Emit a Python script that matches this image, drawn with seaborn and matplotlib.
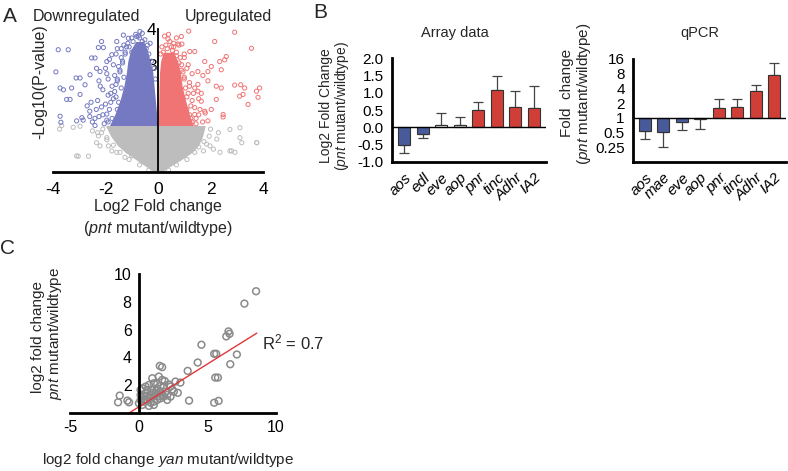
import numpy as np
import pandas as pd
import matplotlib
matplotlib.use("Agg")
import matplotlib.pyplot as plt
import seaborn as sns

# ---------------- DATA ----------------
# Panel A: volcano plot (dense cores as envelopes, scattered points listed)
blue_env_y     = [1.30, 1.60, 2.00, 2.40, 2.80, 3.10, 3.40, 3.65]
blue_env_left  = [-1.85, -1.65, -1.45, -1.30, -1.20, -1.15, -1.05, -0.85]
blue_env_right = [-0.02, -0.05, -0.10, -0.15, -0.20, -0.30, -0.40, -0.55]

red_env_y     = [1.30, 1.60, 2.00, 2.40, 2.80, 3.10, 3.35]
red_env_left  = [0.02, 0.02, 0.03, 0.04, 0.06, 0.10, 0.20]
red_env_right = [1.35, 1.20, 1.05, 0.92, 0.85, 0.75, 0.60]

gray_env_y     = [0.00, 0.15, 0.35, 0.55, 0.75, 1.00, 1.30]
gray_env_left  = [-0.15, -0.45, -0.85, -1.25, -1.55, -1.80, -2.00]
gray_env_right = [0.15, 0.45, 0.90, 1.30, 1.55, 1.70, 1.80]

down_x = [-3.42, -3.89, -2.15, -2.27, -2.08, -2.53, -2.40, -3.12, -2.97, -3.73, -3.60,
          -3.29, -3.48, -3.35, -2.97, -2.78, -2.59, -3.73, -3.70, -3.10, -2.90, -2.34,
          -2.21, -1.95, -1.76, -1.57, -1.32, -1.13, -0.69, -0.81, -1.20, -1.00, -3.80,
          -1.95, -2.10, -1.85, -2.00, -1.70, -1.80, -1.60, -1.55, -1.45, -1.35, -1.25,
          -1.10, -0.95, -0.70, -0.50, -0.40, -0.85, -2.40, -2.60, -2.30, -2.50, -2.20,
          -1.90, -2.00, -1.70, -1.60, -1.40, -0.60, -0.30, -1.50, -2.70, -2.85,
          -2.05, -2.25, -1.95, -2.15, -1.80, -1.90, -1.65, -1.75, -1.55, -1.65, -1.45,
          -1.50, -1.35, -1.40, -1.25, -1.30, -1.15, -1.00, -0.75, -0.60, -0.45, -0.35,
          -0.25, -0.15, -0.10, -2.40, -2.60, -2.35, -2.55, -2.10, -2.25, -1.95, -1.85,
          -1.55, -1.90, -1.75, -1.55, -1.60, -1.40, -1.30]
down_y = [3.42, 2.80, 3.65, 3.48, 3.48, 3.19, 3.19, 2.63, 2.63, 2.35, 2.30,
          2.35, 2.03, 2.03, 2.17, 2.44, 2.72, 1.56, 1.39, 1.43, 1.52, 2.90,
          2.81, 3.09, 3.28, 3.65, 3.83, 3.74, 3.93, 3.79, 3.50, 3.35, 3.42,
          1.45, 1.60, 1.75, 1.90, 2.05, 2.20, 2.45, 2.60, 2.85, 3.10, 3.30,
          3.50, 3.65, 3.75, 3.70, 3.55, 3.85, 1.50, 1.70, 2.00, 1.40, 2.40,
          2.60, 2.90, 3.00, 3.30, 3.45, 3.88, 3.60, 1.95, 1.85, 1.45,
          1.35, 1.55, 1.62, 1.82, 1.95, 2.15, 2.25, 2.40, 2.55, 2.70, 2.80,
          2.95, 3.05, 3.20, 3.35, 3.55, 3.60, 3.75, 3.80, 3.65, 3.45, 3.30,
          3.10, 2.90, 2.60, 1.30, 1.55, 1.75, 1.95, 2.30, 2.55, 2.75, 3.15,
          3.45, 1.40, 1.50, 1.75, 2.10, 2.35, 2.65]

up_x = [1.17, 2.92, 2.16, 3.56, 0.89, 0.76, 0.91, 0.38, 0.51, 1.40, 1.21,
        2.35, 2.60, 2.54, 2.03, 1.78, 2.41, 1.52, 1.90, 2.22, 2.41, 2.92,
        3.15, 3.30, 3.75, 3.87, 3.81, 3.11, 3.24, 3.43, 2.22, 2.03, 2.48,
        2.48, 1.52, 1.65, 1.78, 1.90, 1.40, 1.71, 1.90, 1.52, 1.30, 1.20,
        1.25, 1.10, 1.05, 1.00, 0.90, 0.80, 0.70, 0.55, 0.35, 0.20, 1.45,
        1.60, 1.35, 1.20, 1.10, 0.60, 0.45, 0.25, 1.00,
        1.45, 1.55, 1.40, 1.30, 1.15, 1.20, 1.00, 0.95, 0.90, 0.85, 0.70,
        0.60, 0.30, 0.15, 0.10, 1.70, 1.80, 1.55, 1.40, 1.30, 1.15, 1.00,
        0.80, 0.70, 0.40, 1.65, 1.25, 1.10]
up_y = [3.94, 3.91, 3.65, 3.46, 3.79, 3.58, 3.58, 3.72, 3.50, 3.37, 3.37,
        3.09, 3.23, 3.14, 2.95, 3.09, 2.86, 2.81, 2.81, 2.40, 2.35, 2.43,
        2.44, 2.35, 2.26, 2.35, 2.09, 2.12, 2.17, 1.89, 2.03, 1.75, 1.61,
        1.54, 2.26, 1.98, 1.70, 1.43, 1.61, 2.70, 2.55, 2.45, 1.40, 1.60,
        1.85, 2.10, 2.35, 2.60, 2.85, 3.05, 3.25, 3.40, 3.45, 3.35, 1.50,
        1.75, 2.20, 2.50, 2.90, 3.60, 3.65, 3.80, 3.20,
        1.35, 1.60, 1.80, 2.00, 2.20, 2.40, 2.65, 2.80, 3.00, 3.20, 3.35,
        3.50, 3.55, 3.50, 3.30, 1.40, 1.65, 2.05, 2.35, 2.75, 3.00, 3.30,
        3.55, 3.75, 3.85, 2.20, 1.50, 1.75]

ns_x = [-3.04, -2.65, -2.27, -2.15, -1.95, -2.34, -2.21, -1.89, -1.76, -1.57, -1.00,
        -1.26, 1.41, 1.85, 2.11, 1.73, 2.36, 2.74, 2.93, 3.12, 3.12, 3.19, 3.76,
        2.24, 2.74, -3.10, 2.80, 3.76, 1.98, -2.10, -2.30, -1.95, -1.70, -1.45,
        -1.10, -0.70, 2.00, 1.95, 1.75, 1.55, 1.40, 1.10, 0.70, 2.30, -2.50,
        0.40, -0.35, -3.67, -3.23, -2.97, -3.75]
ns_y = [0.44, 0.44, 1.01, 1.10, 0.96, 0.82, 0.73, 0.73, 0.59, 0.55, 0.45,
        0.41, 0.87, 0.78, 0.64, 0.59, 0.55, 0.59, 0.55, 1.24, 0.96, 0.82, 0.82,
        0.92, 1.19, 0.45, 0.59, 0.82, 0.73, 1.20, 1.10, 0.90, 0.75, 0.55,
        0.35, 0.20, 1.20, 1.00, 0.85, 0.70, 0.55, 0.35, 0.20, 1.10, 1.15,
        0.05, 0.05, 1.30, 1.25, 1.28, 1.20]

# Panel B: array data (log2 fold change) and qPCR (fold change)
array_genes = ["aos", "edl", "eve", "aop", "pnr", "tinc", "Adhr", "IA2"]
array_vals = [-0.52, -0.20, 0.07, 0.08, 0.50, 1.07, 0.58, 0.55]
array_err_tip = [-0.75, -0.30, 0.40, 0.30, 0.73, 1.48, 1.05, 1.20]
array_colors = ["#3a52a8", "#3a52a8", "#f4f4f4", "#d9d9d9",
                "#e8281e", "#e8281e", "#e8281e", "#e8281e"]

qpcr_genes = ["aos", "mae", "eve", "aop", "pnr", "tinc", "Adhr", "IA2"]
qpcr_vals = [0.54, 0.52, 0.84, 0.97, 1.60, 1.63, 3.55, 7.40]
qpcr_err_tip = [0.37, 0.25, 0.57, 0.59, 2.45, 2.45, 4.70, 13.5]
qpcr_colors = ["#3a52a8", "#3a52a8", "#3a52a8", "#3a52a8",
               "#e8281e", "#e8281e", "#e8281e", "#e8281e"]

# Panel C: yan vs pnt log2 fold change
yan_x = [8.55, 7.70, 6.54, 6.62, 6.38, 4.57, 5.50, 5.65, 7.15, 4.30, 6.67, 3.57,
         5.58, 5.77, 3.67, 5.50, 5.82, 1.54, 1.71, -1.38, -1.50, -0.82, -0.70,
         0.99, 1.47, 1.71, 2.68, 3.04, 2.32, 2.56, 2.32, 2.08, 0.27, 0.51, 0.75,
         1.10, 1.35, 1.59, 1.83, 0.14, 0.39, 0.63, 0.87, 1.11, 1.35, 1.59, 1.83,
         0.14, 0.51, 0.87, 1.23, 1.59, 1.95, 0.39, 0.75, 1.10, 1.47, 0.99, 0.63,
         0.14, 1.35, 1.71, 2.08, 0.02, 1.10, 0.27, 0.75, 2.45, 2.85, 0.45, 1.00,
         1.30, 0.60, 1.90, 2.20]
pnt_y = [8.76, 7.87, 5.87, 5.70, 5.51, 4.91, 4.26, 4.26, 4.21, 3.63, 3.51, 3.03,
         2.55, 2.55, 0.89, 0.74, 0.87, 3.39, 3.30, 1.25, 0.77, 0.89, 0.77,
         2.50, 2.62, 2.38, 2.26, 2.19, 1.90, 1.54, 1.18, 0.94, 1.78, 1.90, 2.02,
         2.14, 2.09, 1.95, 1.86, 0.94, 0.82, 0.89, 0.74, 0.82, 0.94, 1.06, 1.18,
         1.30, 1.42, 1.30, 1.42, 1.54, 1.54, 1.18, 1.06, 1.18, 1.23, 1.66, 1.66,
         1.66, 1.78, 1.30, 1.30, 0.70, 0.58, 0.58, 0.51, 1.70, 1.45, 1.00, 1.45,
         1.60, 1.25, 2.30, 2.05]
fit_slope = 0.618
fit_intercept = 0.43
fit_x_range = [-0.70, 8.60]

# ---------------- STYLE ----------------
sns.set_theme(style="white")
plt.rcParams["font.family"] = ["Liberation Sans", "DejaVu Sans"]
plt.rcParams["mathtext.fontset"] = "custom"
plt.rcParams["mathtext.rm"] = "Liberation Sans"
plt.rcParams["mathtext.it"] = "Liberation Sans:italic"
plt.rcParams["mathtext.bf"] = "Liberation Sans:bold"

W, H = 788, 471
fig = plt.figure(figsize=(W / 100, H / 100), dpi=100)
fig.patch.set_facecolor("white")


def fx(px):
    return px / W


def fy(py):
    return 1 - py / H


def rect(l, t, r, b):
    return [fx(l), fy(b), (r - l) / W, (b - t) / H]


BLUE_PT = "#7479c2"
RED_PT = "#f07474"
GRAY_PT = "#bdbdbd"

# ---------------- Panel A ----------------
axA = fig.add_axes(rect(53, 29, 263, 172))
axA.fill_betweenx(gray_env_y, gray_env_left, gray_env_right, color=GRAY_PT, lw=0, zorder=1)
axA.fill_betweenx(blue_env_y, blue_env_left, blue_env_right, color=BLUE_PT, lw=0, zorder=1)
axA.fill_betweenx(red_env_y, red_env_left, red_env_right, color=RED_PT, lw=0, zorder=1)
for xs, ys, c in [(ns_x, ns_y, GRAY_PT), (down_x, down_y, BLUE_PT), (up_x, up_y, RED_PT)]:
    sns.scatterplot(x=xs, y=ys, ax=axA, marker="o", s=9, facecolors="none",
                    edgecolor=c, linewidth=0.7, clip_on=False, zorder=2)
axA.set_xlim(-4, 4)
axA.set_ylim(0, 4)
for s in ["top", "right"]:
    axA.spines[s].set_visible(False)
axA.spines["left"].set_position(("data", 0))
axA.spines["left"].set_bounds(0, 4)
axA.spines["left"].set_linewidth(1.3)
axA.spines["left"].set_color("black")
axA.spines["left"].set_zorder(5)
axA.spines["bottom"].set_bounds(-4, 4)
axA.spines["bottom"].set_linewidth(2)
axA.spines["bottom"].set_color("black")
axA.set_xticks([-4, -2, 0, 2, 4])
axA.set_xticklabels(["-4", "-2", "0", "2", "4"])
axA.set_yticks([3, 4])
axA.set_yticklabels(["3", "4"])
axA.tick_params(axis="x", direction="out", length=4, width=1.5, labelsize=12.5, pad=3, colors="black")
axA.tick_params(axis="y", direction="in", length=3, width=1.3, labelsize=12.5, pad=1, colors="black")
axA.set_facecolor("none")

fig.text(fx(3), fy(17), "A", fontsize=15, va="center", ha="left")
fig.text(fx(87), fy(17), "Downregulated", fontsize=11.5, va="center", ha="center")
fig.text(fx(228), fy(17), "Upregulated", fontsize=11.5, va="center", ha="center")
fig.text(fx(158), fy(207), "Log2 Fold change", fontsize=11.5, va="center", ha="center")
fig.text(fx(158), fy(228), r"($\it{pnt}$ mutant/wildtype)", fontsize=11.5, va="center", ha="center")
fig.text(fx(40), fy(82), "-Log10(P-value)", fontsize=11.5, va="center", ha="center", rotation=90)

# ---------------- Panel B: Array data ----------------
axB1 = fig.add_axes(rect(392, 58, 546, 162))
dfa = pd.DataFrame({"gene": array_genes, "value": array_vals})
sns.barplot(data=dfa, x="gene", y="value", hue="gene", palette=array_colors, legend=False,
            width=0.65, edgecolor="#333333", linewidth=0.8, ax=axB1, zorder=3)
a_vals = np.array(array_vals)
a_tip = np.array(array_err_tip)
a_low = np.where(a_tip < a_vals, a_vals - a_tip, 0)
a_up = np.where(a_tip > a_vals, a_tip - a_vals, 0)
axB1.errorbar(np.arange(len(array_genes)), a_vals, yerr=[a_low, a_up], fmt="none",
              ecolor="#444444", elinewidth=0.9, capsize=3.5, capthick=0.9, zorder=2)
axB1.axhline(0, color="black", lw=1, zorder=4)
axB1.set_xlim(-0.65, 7.65)
axB1.set_ylim(-1, 2)
axB1.set_yticks([-1, -0.5, 0, 0.5, 1, 1.5, 2])
axB1.set_yticklabels(["-1.0", "-0.5", "0.0", "0.5", "1.0", "1.5", "2.0"])
axB1.set_xticks(range(len(array_genes)))
axB1.set_xticklabels(array_genes, rotation=45, ha="right", va="top",
                     rotation_mode="anchor", style="italic", fontsize=11)
axB1.set_xlabel("")
axB1.set_ylabel("")
for s in ["top", "right"]:
    axB1.spines[s].set_visible(False)
for s in ["left", "bottom"]:
    axB1.spines[s].set_linewidth(2)
    axB1.spines[s].set_color("black")
axB1.tick_params(axis="both", direction="out", length=4, width=1.5, colors="black")
axB1.tick_params(axis="y", labelsize=11, pad=2)
axB1.tick_params(axis="x", pad=2)

fig.text(fx(320), fy(12), "B", fontsize=15, va="center", ha="center")
fig.text(fx(455), fy(33), "Array data", fontsize=10.5, va="center", ha="center")
fig.text(fx(326), fy(106), "Log2 Fold Change", fontsize=10, va="center", ha="center", rotation=90)
fig.text(fx(342), fy(106), r"($\it{pnt}$ mutant/wildtype)", fontsize=10, va="center", ha="center", rotation=90)

# ---------------- Panel B: qPCR ----------------
axB2 = fig.add_axes(rect(633, 59, 786, 162))
dfq = pd.DataFrame({"gene": qpcr_genes, "log2fc": np.log2(qpcr_vals)})
sns.barplot(data=dfq, x="gene", y="log2fc", hue="gene", palette=qpcr_colors, legend=False,
            width=0.65, edgecolor="#333333", linewidth=0.8, ax=axB2, zorder=3)
q_vals = np.log2(qpcr_vals)
q_tip = np.log2(qpcr_err_tip)
q_low = np.where(q_tip < q_vals, q_vals - q_tip, 0)
q_up = np.where(q_tip > q_vals, q_tip - q_vals, 0)
axB2.errorbar(np.arange(len(qpcr_genes)), q_vals, yerr=[q_low, q_up], fmt="none",
              ecolor="#444444", elinewidth=0.9, capsize=3.5, capthick=0.9, zorder=2)
axB2.axhline(0, color="black", lw=1, zorder=4)
axB2.set_xlim(-0.65, 7.65)
axB2.set_ylim(-3, 4)
axB2.set_yticks([-2, -1, 0, 1, 2, 3, 4])
axB2.set_yticklabels(["0.25", "0.5", "1", "2", "4", "8", "16"])
axB2.set_xticks(range(len(qpcr_genes)))
axB2.set_xticklabels(qpcr_genes, rotation=45, ha="right", va="top",
                     rotation_mode="anchor", style="italic", fontsize=11)
axB2.set_xlabel("")
axB2.set_ylabel("")
for s in ["top", "right"]:
    axB2.spines[s].set_visible(False)
for s in ["left", "bottom"]:
    axB2.spines[s].set_linewidth(2)
    axB2.spines[s].set_color("black")
axB2.tick_params(axis="both", direction="out", length=4, width=1.5, colors="black")
axB2.tick_params(axis="y", labelsize=11, pad=2)
axB2.tick_params(axis="x", pad=2)

fig.text(fx(700), fy(33), "qPCR", fontsize=10.5, va="center", ha="center")
fig.text(fx(567), fy(93), "Fold  change", fontsize=11, va="center", ha="center", rotation=90)
fig.text(fx(584), fy(94), r"($\it{pnt}$ mutant/wildtype)", fontsize=11, va="center", ha="center", rotation=90)

# ---------------- Panel C ----------------
axC = fig.add_axes(rect(70, 274, 276, 413))
sns.scatterplot(x=yan_x, y=pnt_y, ax=axC, marker="o", s=24, facecolors="none",
                edgecolor="#8a8a8a", linewidth=1.1, clip_on=False, zorder=2)
fx_line = np.array(fit_x_range)
axC.plot(fx_line, fit_slope * fx_line + fit_intercept, color="#e0363a", lw=1, zorder=3, clip_on=False)
axC.set_xlim(-5, 10)
axC.set_ylim(0, 10)
for s in ["top", "right"]:
    axC.spines[s].set_visible(False)
axC.spines["left"].set_position(("data", 0))
axC.spines["left"].set_bounds(0, 10)
axC.spines["bottom"].set_bounds(-5, 10)
for s in ["left", "bottom"]:
    axC.spines[s].set_linewidth(2)
    axC.spines[s].set_color("black")
    axC.spines[s].set_zorder(5)
axC.set_xticks([-5, 0, 5, 10])
axC.set_xticklabels(["-5", "0", "5", "10"])
axC.set_yticks([2, 4, 6, 8, 10])
axC.set_yticklabels(["2", "4", "6", "8", "10"])
axC.tick_params(axis="both", direction="out", length=4, width=1.5, labelsize=11.5, colors="black")
axC.tick_params(axis="x", pad=1)
axC.tick_params(axis="y", pad=1)
axC.set_facecolor("none")
axC.text(8.95, 5.1, r"R$^{2}$ = 0.7", fontsize=12, va="center", ha="left")

fig.text(fx(8), fy(248), "C", fontsize=15, va="center", ha="center")
fig.text(fx(38), fy(337), "log2 fold change", fontsize=11, va="center", ha="center", rotation=90)
fig.text(fx(55), fy(333), r"$\it{pnt}$ mutant/wildtype", fontsize=11, va="center", ha="center", rotation=90)
fig.text(fx(168), fy(460), r"log2 fold change $\it{yan}$ mutant/wildtype", fontsize=11, va="center", ha="center")

fig.savefig("out.png", dpi=100, facecolor="white")
